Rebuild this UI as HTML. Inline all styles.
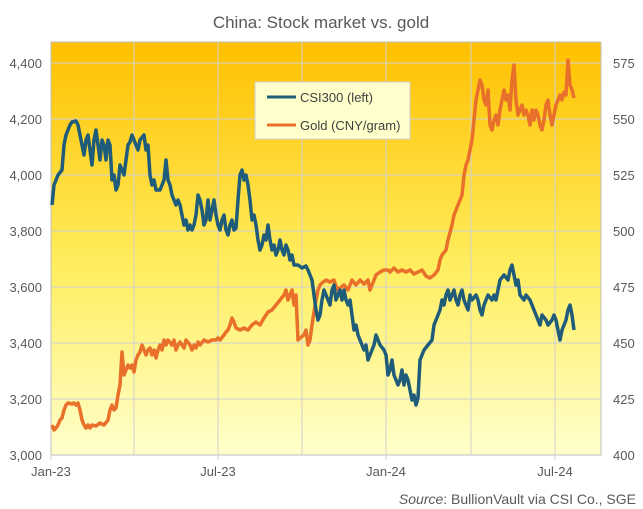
<!DOCTYPE html>
<html><head><meta charset="utf-8"><style>body{margin:0;background:#fff}svg{display:block;font-family:"Liberation Sans",sans-serif}</style></head><body>
<svg width="643" height="509" viewBox="0 0 643 509">
<defs><linearGradient id="g" x1="0" y1="0" x2="0" y2="1"><stop offset="0" stop-color="#FFC000"/><stop offset="0.55" stop-color="#FFEE60"/><stop offset="1" stop-color="#FFFFCC"/></linearGradient></defs>
<text x="321" y="28" text-anchor="middle" font-size="17" fill="#595959">China:  Stock market vs. gold</text>
<rect x="51" y="42" width="550" height="413" fill="url(#g)" stroke="#BFBFBF"/>
<g stroke="#D0D0D0" stroke-width="1">
<line x1="51" y1="63" x2="601" y2="63"/><line x1="51" y1="119" x2="601" y2="119"/><line x1="51" y1="175" x2="601" y2="175"/><line x1="51" y1="231" x2="601" y2="231"/><line x1="51" y1="287" x2="601" y2="287"/><line x1="51" y1="343" x2="601" y2="343"/><line x1="51" y1="399" x2="601" y2="399"/>
<line x1="134" y1="42" x2="134" y2="455"/><line x1="218" y1="42" x2="218" y2="460"/><line x1="302" y1="42" x2="302" y2="455"/><line x1="386" y1="42" x2="386" y2="460"/><line x1="471" y1="42" x2="471" y2="455"/><line x1="555" y1="42" x2="555" y2="460"/><line x1="51" y1="455" x2="51" y2="460"/>
</g>
<g font-size="13" fill="#595959" text-anchor="end">
<text x="42" y="68">4,400</text><text x="42" y="124">4,200</text><text x="42" y="180">4,000</text><text x="42" y="236">3,800</text><text x="42" y="292">3,600</text><text x="42" y="348">3,400</text><text x="42" y="404">3,200</text><text x="42" y="460">3,000</text>
</g>
<g font-size="13" fill="#595959" text-anchor="start">
<text x="613" y="68">575</text><text x="613" y="124">550</text><text x="613" y="180">525</text><text x="613" y="236">500</text><text x="613" y="292">475</text><text x="613" y="348">450</text><text x="613" y="404">425</text><text x="613" y="460">400</text>
</g>
<g font-size="13" fill="#595959" text-anchor="middle">
<text x="51" y="476">Jan-23</text><text x="218" y="476">Jul-23</text><text x="386" y="476">Jan-24</text><text x="555" y="476">Jul-24</text>
</g>
<text x="636" y="504" text-anchor="end" font-size="14" fill="#595959"><tspan font-style="italic">Source</tspan>: BullionVault via CSI Co., SGE</text>
<polyline fill="none" stroke="#E8702A" stroke-width="3.5" stroke-linejoin="round" points="52,425 54,430 56,428 58,425 60,420 62,418 64,410 66,405 68,403 72,404 74,403 76,405 78,403 80,410 82,420 84,425 86,428 88,425 90,428 92,425 96,426 100,423 104,425 108,420 110,410 112,405 114,410 116,408 118,395 120,385 122,352 124,375 126,370 128,365 130,368 132,365 134,372 136,360 138,355 140,352 142,345 144,350 146,355 148,350 150,348 152,355 154,350 156,358 158,350 160,345 162,350 164,340 166,345 168,340 172,345 174,340 176,350 178,345 180,342 184,348 186,340 190,345 192,350 194,345 196,348 198,342 200,345 204,340 208,342 212,340 216,340 218,338 220,340 224,335 226,332 228,330 230,325 232,318 234,322 236,328 240,330 244,328 248,330 252,325 256,322 260,325 264,318 268,312 272,310 276,305 280,300 284,295 286,290 288,300 290,295 292,290 294,305 296,295 298,340 300,338 304,335 306,330 308,345 310,340 312,325 314,312 316,300 318,290 320,285 322,283 326,280 330,282 334,280 336,286 338,290 340,288 344,285 348,290 352,280 356,285 360,280 364,284 368,280 370,290 372,285 374,280 376,275 380,272 384,270 388,270 390,272 394,268 398,272 402,270 406,272 410,270 414,274 418,272 422,270 426,276 430,278 434,275 438,270 440,260 442,255 446,250 448,240 452,225 454,215 456,210 458,205 460,200 462,195 464,175 466,165 468,160 470,150 472,140 474,120 476,100 478,90 480,80 482,85 484,100 486,105 488,90 490,125 492,130 494,120 496,115 498,125 500,110 502,100 504,90 506,100 508,95 510,110 512,80 514,65 516,100 518,115 520,110 522,105 524,115 526,110 528,115 530,125 532,110 534,120 536,110 538,115 540,125 542,130 544,120 546,105 548,100 550,115 552,125 554,115 556,105 558,100 560,95 562,100 564,92 566,95 568,60 570,85 572,90 574,98"/>
<polyline fill="none" stroke="#1F5C7A" stroke-width="3.5" stroke-linejoin="round" points="52,205 54,185 58,175 62,170 64,145 66,135 68,130 70,125 72,122 76,121 78,125 80,135 82,145 84,155 86,140 88,135 90,150 92,165 94,140 96,130 98,145 100,160 102,140 104,145 106,160 108,140 110,145 112,180 114,175 116,190 118,185 120,165 122,170 124,175 126,160 128,145 130,142 132,135 134,140 136,145 138,150 140,140 144,135 146,150 148,145 150,175 152,185 154,180 156,190 160,190 164,180 166,160 168,180 170,185 172,195 174,200 176,205 178,200 180,205 182,215 184,225 186,220 188,230 190,225 192,230 194,225 196,215 198,195 200,200 202,210 204,225 206,220 208,200 210,220 212,210 214,200 216,215 218,225 220,230 222,220 224,215 226,230 228,235 230,225 232,220 234,230 236,228 238,200 240,175 242,170 244,180 246,175 248,185 250,200 252,220 254,215 256,225 258,240 260,250 262,245 264,235 266,240 268,225 270,240 272,250 274,245 276,255 278,250 280,240 282,250 284,255 286,245 288,250 290,260 292,255 294,265 298,265 302,268 306,266 308,270 312,280 314,295 316,310 318,320 320,315 322,300 324,290 326,295 328,300 330,305 332,290 334,285 336,300 338,295 340,290 342,300 344,290 346,300 348,305 350,300 352,315 354,330 356,325 358,335 360,340 362,345 364,350 366,345 368,360 370,355 372,350 374,345 376,335 378,340 380,345 384,350 386,355 388,375 390,370 392,360 394,375 396,380 398,385 400,380 402,370 404,385 406,375 408,380 410,390 412,400 414,395 416,405 418,398 420,360 424,350 428,345 432,340 434,325 436,320 438,315 440,310 442,300 444,305 446,295 448,290 450,300 452,295 454,290 456,300 458,305 460,295 462,290 464,300 466,305 468,310 470,295 472,300 476,295 478,300 480,310 482,315 484,305 486,300 488,295 492,300 494,295 496,300 500,280 504,275 508,280 510,270 512,265 514,275 516,285 518,280 520,295 524,300 526,295 530,300 534,310 536,315 538,320 540,325 542,315 546,320 548,325 552,320 554,315 556,320 558,330 560,340 562,330 564,325 566,320 568,310 570,305 572,315 574,330"/>
<rect x="255" y="82" width="155" height="57" fill="#FFFFCC" stroke="#CFCFCF"/>
<line x1="267" y1="97" x2="296" y2="97" stroke="#1F5C7A" stroke-width="3"/>
<line x1="267" y1="125" x2="296" y2="125" stroke="#E8702A" stroke-width="3"/>
<g font-size="13" fill="#404040"><text x="300" y="102">CSI300 (left)</text><text x="300" y="130">Gold (CNY/gram)</text></g>
</svg>
</body></html>
